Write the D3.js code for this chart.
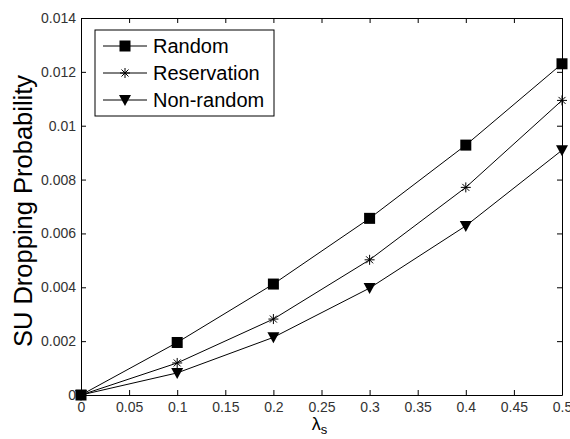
<!DOCTYPE html>
<html>
<head>
<meta charset="utf-8">
<style>
body { margin: 0; background: #fff; }
text { font-family: Arial, "Liberation Sans", sans-serif; }
.axis text { fill: #333; font-size: 14px; }
.axis path, .axis line { stroke: #000; }
.line { fill: none; stroke: #000; stroke-width: 1px; }
</style>
<script src="https://d3js.org/d3.v7.min.js"></script>
</head>
<body>
<svg width="570" height="439"></svg>
<script>
// values
var lambdaS = [0, 0.1, 0.2, 0.3, 0.4, 0.5];
var random = [0, 0.00195, 0.00412, 0.00656, 0.00928, 0.0123];
var reservation = [0, 0.00119, 0.00282, 0.00502, 0.00771, 0.01094];
var nonRandom = [0, 0.00082, 0.00214, 0.00397, 0.00628, 0.00909];
var xTicks = [0, 0.05, 0.1, 0.15, 0.2, 0.25, 0.3, 0.35, 0.4, 0.45, 0.5];
var yTicks = [0, 0.002, 0.004, 0.006, 0.008, 0.01, 0.012, 0.014];

var series = [
  {name: "Random", values: random, marker: "square"},
  {name: "Reservation", values: reservation, marker: "star"},
  {name: "Non-random", values: nonRandom, marker: "tri"}
];

var svg = d3.select("svg"),
    margin = {top: 18, right: 8, bottom: 44, left: 81},
    width = 570 - margin.left - margin.right,
    height = 439 - margin.top - margin.bottom,
    g = svg.append("g").attr("transform", "translate(" + margin.left + "," + margin.top + ")");

var x = d3.scaleLinear().domain([0, 0.5]).range([0, width]);
var y = d3.scaleLinear().domain([0, 0.014]).range([height, 0]);

function fmt(d) { return d === 0 ? "0" : String(+d.toFixed(3)); }

// axes with inward ticks, boxed like matlab
g.append("g")
    .attr("class", "axis")
    .attr("transform", "translate(0," + height + ")")
    .call(d3.axisBottom(x).tickValues(xTicks).tickFormat(fmt).tickSizeInner(-5).tickSizeOuter(0).tickPadding(7));
g.append("g")
    .attr("class", "axis")
    .call(d3.axisLeft(y).tickValues(yTicks).tickFormat(fmt).tickSizeInner(-5).tickSizeOuter(0).tickPadding(5));
g.append("g")
    .attr("class", "axis")
    .call(d3.axisTop(x).tickValues(xTicks).tickFormat("").tickSizeInner(-5).tickSizeOuter(0));
g.append("g")
    .attr("class", "axis")
    .attr("transform", "translate(" + width + ",0)")
    .call(d3.axisRight(y).tickValues(yTicks).tickFormat("").tickSizeInner(-5).tickSizeOuter(0));

var line = d3.line()
    .x(function(d, i) { return x(lambdaS[i]); })
    .y(function(d) { return y(d); });

function drawMarker(sel, type) {
  if (type === "square") {
    sel.append("rect").attr("x", -5.5).attr("y", -5.5).attr("width", 11).attr("height", 11).attr("fill", "#000");
  } else if (type === "tri") {
    sel.append("path").attr("d", "M-6,-5L6,-5L0,6Z").attr("fill", "#000");
  } else {
    sel.append("path").attr("d", "M0,-5V5M-5,0H5M-3.5,-3.5L3.5,3.5M-3.5,3.5L3.5,-3.5")
        .attr("stroke", "#000").attr("stroke-width", 1).attr("fill", "none");
  }
}

series.forEach(function(s) {
  g.append("path").attr("class", "line").attr("d", line(s.values));
  s.values.forEach(function(v, i) {
    var m = g.append("g").attr("transform", "translate(" + x(lambdaS[i]) + "," + y(v) + ")");
    drawMarker(m, s.marker);
  });
});

// legend
var leg = svg.append("g").attr("transform", "translate(95,30)");
leg.append("rect").attr("width", 179).attr("height", 86)
    .attr("fill", "#fff").attr("stroke", "#000").attr("stroke-width", 1);
series.forEach(function(s, i) {
  var row = leg.append("g").attr("transform", "translate(0," + (16 + i * 27) + ")");
  row.append("line").attr("x1", 8).attr("x2", 52).attr("stroke", "#000");
  drawMarker(row.append("g").attr("transform", "translate(30,0)"), s.marker);
  row.append("text").attr("x", 58).attr("dy", "0.35em").style("font-size", "20px").attr("fill", "#000").text(s.name);
});

// axis labels
svg.append("text")
    .attr("transform", "translate(32,211) rotate(-90)")
    .attr("text-anchor", "middle")
    .style("font-size", "25.5px")
    .attr("fill", "#000")
    .text("SU Dropping Probability");

var xl = svg.append("text")
    .attr("x", margin.left + x(0.25) - 2)
    .attr("y", 430)
    .attr("text-anchor", "middle")
    .style("font-size", "18px")
    .attr("fill", "#000");
xl.append("tspan").text("λ");
xl.append("tspan").attr("dy", 4).style("font-size", "13px").text("s");
</script>
</body>
</html>
